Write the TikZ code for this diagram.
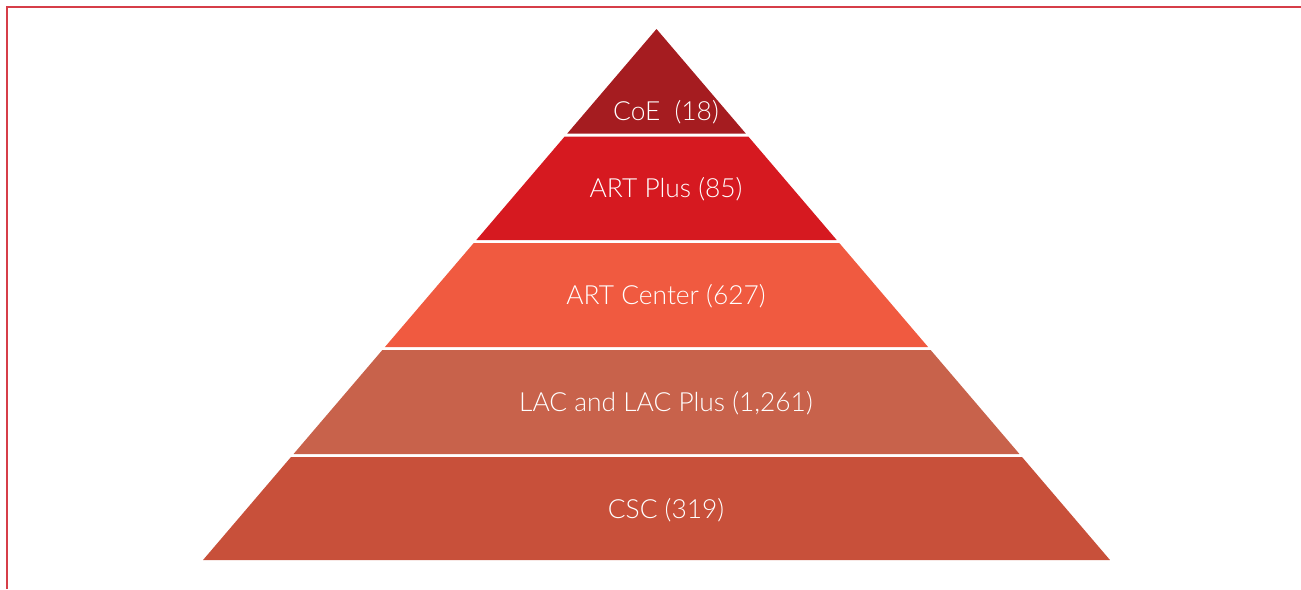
\documentclass[tikz,border=0pt]{standalone}
\usepackage{fontspec}
\setmainfont{Lato}[UprightFont={* Light}]
\usetikzlibrary{positioning}
\definecolor{frameRed}{RGB}{214,62,72}
\definecolor{coeRed}{RGB}{165,28,32}
\definecolor{plusRed}{RGB}{214,25,32}
\definecolor{centerRed}{RGB}{240,90,64}
\definecolor{lacRed}{RGB}{200,98,75}
\definecolor{cscRed}{RGB}{200,80,58}
\tikzset{tier/.style={text=white,font=\fontsize{15}{17}\selectfont,inner sep=0pt}}

\begin{document}
\begin{tikzpicture}[x=0.02cm,y=-0.02cm]
\useasboundingbox (0,0) rectangle (1301,589);
\draw[frameRed,line width=1.6pt] (7,589)--(7,7)--(1301,7);
\foreach \t/\b/\c/\lbl/\ly [count=\i] in {29/133.5/coeRed/{CoE~~(18)}/112,136.5/240/plusRed/{ART Plus (85)}/189,243/347/centerRed/{ART Center (627)}/296,350/454/lacRed/{LAC and LAC Plus (1,261)}/403,457/560/cscRed/{CSC (319)}/510}{
\fill[\c] ({656.5-(\t-29)*0.854},\t)--({656.5+(\t-29)*0.854},\t)--({656.5+(\b-29)*0.854},\b)--({656.5-(\b-29)*0.854},\b)--cycle;
\node[tier] (tier\i) at (666,\ly) {\lbl};
}
\end{tikzpicture}
\end{document}
